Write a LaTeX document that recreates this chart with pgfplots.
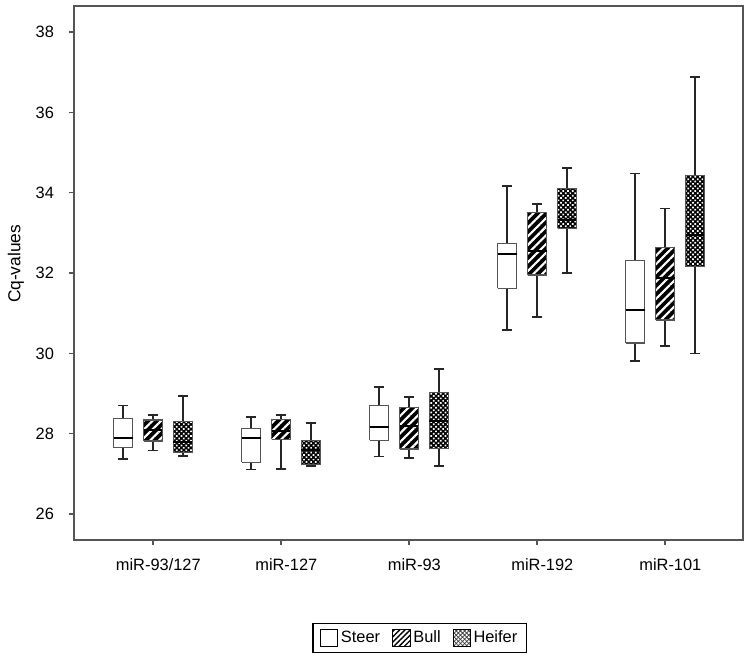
\documentclass[border=0pt]{standalone}
\usepackage{fontspec}
\setmainfont{Liberation Sans}
\usepackage{pgfplots}
\pgfplotsset{compat=1.18}
\usetikzlibrary{patterns.meta}

\definecolor{axgray}{RGB}{85,85,85}

% fill and pattern layers for the three groups
\tikzset{
  steerfill/.style={fill=white, draw=none},
  steerpat/.style={draw=axgray, line width=0.9pt},
  bullfill/.style={fill=black, draw=none},
  bullpat/.style={draw=axgray, line width=0.9pt,
    pattern={Lines[angle=45,distance=4.6pt,line width=1.6pt]}, pattern color=white},
  heiferfill/.style={fill=black, draw=none},
  heiferpat/.style={draw=axgray, line width=0.9pt,
    pattern={Dots[angle=45,distance=2.5pt,radius=0.9pt]}, pattern color=white},
  whisk/.style={draw=black!85, line width=1.3pt},
  med/.style={draw=black, line width=1.6pt},
}

% one box: group, position, lower whisker, Q1, median, Q3, upper whisker
\newcommand{\cqbox}[7]{%
  \pgfmathsetmacro\bxl{#2-0.074}\pgfmathsetmacro\bxr{#2+0.074}%
  \pgfmathsetmacro\cpl{#2-0.04}\pgfmathsetmacro\cpr{#2+0.04}%
  \addplot[whisk] coordinates {(#2,#3) (#2,#4)};
  \addplot[whisk] coordinates {(#2,#6) (#2,#7)};
  \addplot[whisk] coordinates {(\cpl,#3) (\cpr,#3)};
  \addplot[whisk] coordinates {(\cpl,#7) (\cpr,#7)};
  \addplot[#1fill] coordinates {(\bxl,#4) (\bxr,#4) (\bxr,#6) (\bxl,#6) (\bxl,#4)};
  \addplot[#1pat] coordinates {(\bxl,#4) (\bxr,#4) (\bxr,#6) (\bxl,#6) (\bxl,#4)};
  \addplot[med] coordinates {(\bxl,#5) (\bxr,#5)};
}

\begin{document}
\begin{tikzpicture}
\useasboundingbox (0,0) rectangle (562.5pt,495pt);
\begin{axis}[
  at={(55.5pt,90pt)}, anchor=south west,
  scale only axis, width=501.75pt, height=400.5pt,
  xmin=0.383, xmax=5.609, ymin=25.353, ymax=38.65,
  axis line style={axgray, line width=1.1pt},
  tick style={axgray, line width=0.9pt},
  tick align=outside, tick pos=left, major tick length=3.5pt,
  xtick={1,2,3,4,5},
  xticklabels={miR-93/127, miR-127, miR-93, miR-192, miR-101},
  ytick={26,28,...,38},
  /pgf/number format/assume math mode=true,
  ticklabel style={font=\fontsize{12.3}{14}\selectfont},
  xticklabel style={yshift=-7pt, xshift=4pt},
  yticklabel style={xshift=-8pt},
  ylabel={Cq-values},
  every axis y label/.style={at={(axis description cs:-0.087,0.517)}, rotate=90, anchor=center,
    font=\fontsize{13}{15}\selectfont},
  legend columns=3,
  legend style={at={(0.517,-0.1554)}, anchor=north, draw=black, line width=1.1pt,
    inner xsep=5pt, inner ysep=3.5pt,
    font=\fontsize{12.3}{14}\selectfont,
    /tikz/every even column/.append style={column sep=7pt}},
  legend image code/.code={\path[#1] (0pt,-6.5pt) rectangle (13pt,6.5pt);},
]
\addlegendimage{draw=black, line width=0.8pt, fill=white}
\addlegendentry{Steer}
\addlegendimage{draw=black, line width=0.8pt, pattern={Lines[angle=45,distance=2.8pt,line width=1pt]}, pattern color=black}
\addlegendentry{Bull}
\addlegendimage{draw=black, line width=0.8pt, pattern={Hatch[angle=45,distance=2.2pt,line width=0.55pt]}, pattern color=black!75}
\addlegendentry{Heifer}

% miR-93/127
\cqbox{steer}{0.766}{27.37}{27.65}{27.90}{28.38}{28.70}
\cqbox{bull}{1.000}{27.58}{27.82}{28.10}{28.34}{28.46}
\cqbox{heifer}{1.234}{27.44}{27.54}{27.80}{28.30}{28.94}
% miR-127
\cqbox{steer}{1.766}{27.11}{27.29}{27.89}{28.12}{28.42}
\cqbox{bull}{2.000}{27.13}{27.86}{28.07}{28.36}{28.46}
\cqbox{heifer}{2.234}{27.19}{27.24}{27.59}{27.84}{28.26}
% miR-93
\cqbox{steer}{2.766}{27.43}{27.84}{28.16}{28.71}{29.17}
\cqbox{bull}{3.000}{27.40}{27.62}{28.19}{28.65}{28.92}
\cqbox{heifer}{3.234}{27.19}{27.64}{28.32}{29.02}{29.61}
% miR-192
\cqbox{steer}{3.766}{30.58}{31.62}{32.47}{32.74}{34.17}
\cqbox{bull}{4.000}{30.90}{31.95}{32.55}{33.51}{33.72}
\cqbox{heifer}{4.234}{32.01}{33.11}{33.32}{34.11}{34.61}
% miR-101
\cqbox{steer}{4.766}{29.81}{30.26}{31.08}{32.31}{34.48}
\cqbox{bull}{5.000}{30.18}{30.83}{31.88}{32.63}{33.61}
\cqbox{heifer}{5.234}{30.00}{32.16}{32.95}{34.42}{36.89}
\end{axis}
\end{tikzpicture}
\end{document}
